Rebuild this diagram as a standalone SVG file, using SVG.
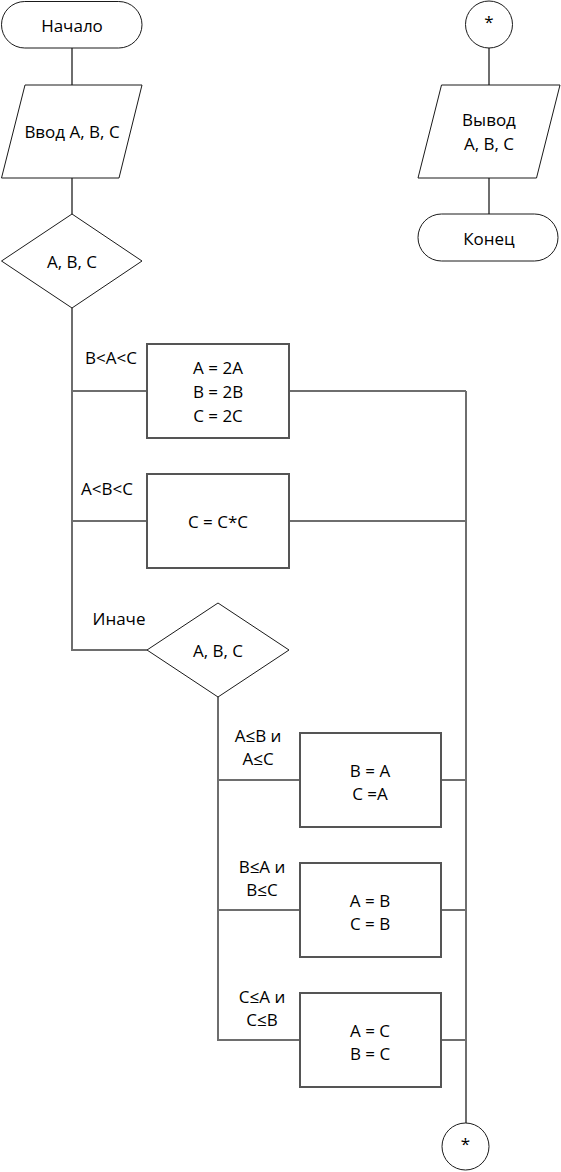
<svg xmlns="http://www.w3.org/2000/svg" width="561" height="1172" viewBox="0 0 561 1172">
<style>
text{font-family:"Open Sans","Liberation Sans",Arial,sans-serif;font-size:17px;fill:#000;text-anchor:middle;dominant-baseline:central}
.s{fill:#fff;stroke:#1a1a1a;stroke-width:1}
.b{fill:#fff;stroke:#555;stroke-width:2}
.c{fill:none;stroke:#6e6e6e;stroke-width:2}
</style>
<rect width="561" height="1172" fill="#fff"/>
<g id="connectors">
<path class="c" d="M72 48V85M72 178V214M72 308V650H147M72 391H147M72 521H147"/>
<path class="c" d="M289 391H466M289 521H466M466 391V1123"/>
<path class="c" d="M218 697V1040H300M218 780H300M218 910H300"/>
<path class="c" d="M441 780H466M441 910H466M441 1040H466"/>
<path class="c" d="M489 48V85M489 178V214"/>
</g>
<g id="start"><rect class="s" x="1.5" y="1.5" width="140.5" height="46.5" rx="23.25"/><text x="72" y="25">Начало</text></g>
<g id="input"><polygon class="s" points="25,85 142,85 119,178 1.5,178"/><text x="72" y="131">Ввод А, В, С</text></g>
<g id="decision1"><polygon class="s" points="72,214 142,261 72,308 1.5,261"/><text x="72" y="261">А, В, С</text></g>
<g id="label1"><text x="111" y="357">B&lt;A&lt;C</text></g>
<g id="proc1"><rect class="b" x="147" y="344" width="142" height="94"/><text x="218" y="367">A = 2A</text><text x="218" y="391">B = 2B</text><text x="218" y="415">C = 2C</text></g>
<g id="label2"><text x="107" y="488">A&lt;B&lt;C</text></g>
<g id="proc2"><rect class="b" x="147" y="474" width="142" height="94"/><text x="218" y="521">C = C*C</text></g>
<g id="label3"><text x="119" y="618">Иначе</text></g>
<g id="decision2"><polygon class="s" points="218,603 289,650 218,697 147,650"/><text x="218" y="650">A, B, C</text></g>
<g id="label4"><text x="258" y="735">A≤B и</text><text x="258" y="758">A≤C</text></g>
<g id="proc3"><rect class="b" x="300" y="733" width="141" height="94"/><text x="370" y="770">B = A</text><text x="370" y="793">C =A</text></g>
<g id="label5"><text x="262" y="866">B≤A и</text><text x="262" y="889">B≤C</text></g>
<g id="proc4"><rect class="b" x="300" y="863" width="141" height="94"/><text x="370" y="900">A = B</text><text x="370" y="923">C = B</text></g>
<g id="label6"><text x="262" y="996">C≤A и</text><text x="262" y="1019">C≤B</text></g>
<g id="proc5"><rect class="b" x="300" y="993" width="141" height="94"/><text x="370" y="1030">A = C</text><text x="370" y="1053">B = C</text></g>
<g id="connector-bottom"><circle class="s" cx="465.5" cy="1146.5" r="23.5"/><text x="465.5" y="1143">*</text></g>
<g id="connector-top"><circle class="s" cx="489" cy="24.5" r="23.5"/><text x="489" y="21">*</text></g>
<g id="output"><polygon class="s" points="441.5,85 560,85 536.5,178 418,178"/><text x="489" y="119">Вывод</text><text x="489" y="143">А, В, С</text></g>
<g id="end"><rect class="s" x="418" y="214" width="140" height="47" rx="23.5"/><text x="489" y="238">Конец</text></g>
</svg>
